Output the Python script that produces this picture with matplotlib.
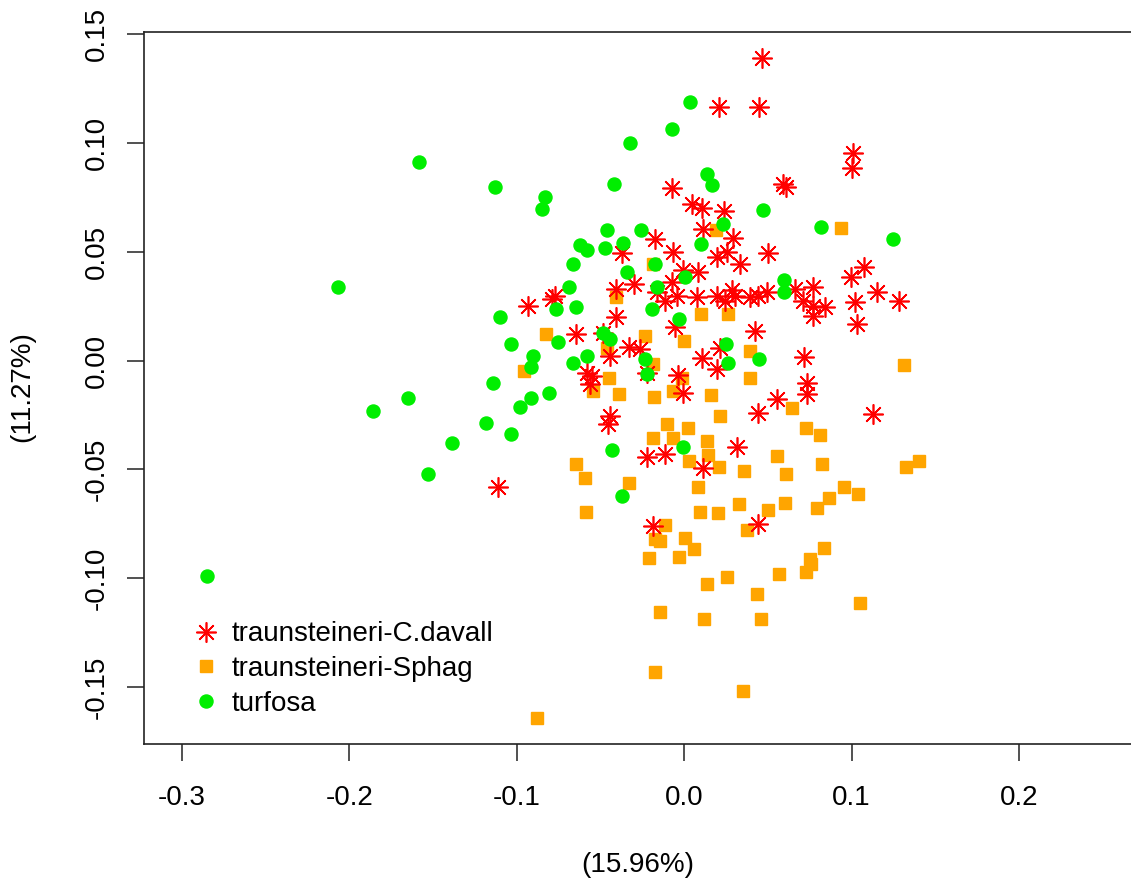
import matplotlib
matplotlib.use("Agg")
import matplotlib.pyplot as plt
from matplotlib.lines import Line2D

plt.rcParams['font.family'] = ['Liberation Sans', 'DejaVu Sans']
plt.rcParams['axes.unicode_minus'] = False

# traunsteineri-C.davall (red asterisks)
davall_x = [0.0466, 0.0209, 0.0448, 0.1009, 0.1003, 0.0591, 0.0609, -0.0072, 0.0048, 0.0107,
            0.0239, 0.0113, -0.0173, -0.0066, 0.0293, 0.0257, 0.0197, 0.0501, 0.0334, 0.0084,
            -0.0006, -0.0072, -0.0161, -0.0042, -0.0113, 0.0078, 0.0197, 0.0287, 0.0245, 0.0304,
            0.0394, 0.0442, 0.0496, 0.0663, 0.0770, 0.0770, 0.0710, 0.0842, 0.0770, 0.0997,
            0.1075, 0.1152, 0.1021, 0.1284, 0.1033, -0.0054, 0.0424, -0.0263, 0.0107, 0.0215,
            0.0197, 0.0716, 0.0734, 0.0734, 0.0555, -0.0036, -0.0006, -0.0370, -0.0299, -0.0406,
            -0.0770, -0.0788, -0.0931, -0.0406, -0.0645, -0.0484, -0.0328, -0.0442, -0.0221, -0.0579,
            -0.0549, -0.0561, -0.1110, -0.0442, -0.0454, -0.0221, -0.0185, 0.0442, 0.1128, 0.0316,
            -0.0113, 0.0113, 0.0442]
davall_y = [0.1389, 0.1164, 0.1164, 0.0952, 0.0883, 0.0810, 0.0796, 0.0791, 0.0718, 0.0699,
            0.0685, 0.0603, 0.0557, 0.0497, 0.0561, 0.0497, 0.0474, 0.0492, 0.0442, 0.0405,
            0.0414, 0.0359, 0.0317, 0.0299, 0.0276, 0.0290, 0.0299, 0.0322, 0.0276, 0.0299,
            0.0290, 0.0299, 0.0313, 0.0331, 0.0336, 0.0253, 0.0276, 0.0248, 0.0207, 0.0382,
            0.0428, 0.0313, 0.0267, 0.0276, 0.0166, 0.0152, 0.0138, 0.0055, 0.0014, 0.0060,
            -0.0037, 0.0018, -0.0101, -0.0152, -0.0175, -0.0064, -0.0147, 0.0492, 0.0350, 0.0331,
            0.0299, 0.0285, 0.0253, 0.0198, 0.0124, 0.0129, 0.0064, 0.0023, -0.0055, -0.0055,
            -0.0069, -0.0106, -0.0580, -0.0253, -0.0290, -0.0442, -0.0759, -0.0239, -0.0244, -0.0396,
            -0.0428, -0.0492, -0.0750]

# traunsteineri-Sphag (orange squares)
sphag_x = [0.0937, 0.0191, -0.0185, 0.0101, 0.0263, -0.0233, 0.0000, 0.0394, -0.0185, 0.0394,
           0.1313, -0.0179, -0.0066, 0.0161, -0.0012, -0.0406, -0.0824, -0.0460, -0.0955, -0.0448,
           -0.0543, -0.0388, -0.0185, -0.0645, -0.0591, -0.0328, -0.0585, -0.0173, -0.0209, 0.0215,
           -0.0101, 0.0024, -0.0066, 0.0137, 0.0143, 0.0030, 0.0209, 0.0358, 0.0084, 0.0645,
           0.0728, 0.0812, 0.0555, 0.0609, 0.0824, 0.0955, 0.1039, 0.0866, 0.0794, 0.0603,
           0.0501, 0.0328, 0.0203, 0.0096, -0.0113, 0.0376, -0.0143, 0.0006, 0.0060, -0.0030,
           0.1325, 0.1403, 0.0836, 0.0752, 0.0137, 0.0257, 0.0436, 0.0567, 0.0758, 0.0728,
           0.1051, -0.0143, 0.0119, 0.0460, -0.0173, 0.0352, -0.0878]
sphag_y = [0.0607, 0.0598, 0.0442, 0.0216, 0.0216, 0.0115, 0.0092, 0.0046, -0.0014, -0.0078,
           -0.0018, -0.0166, -0.0138, -0.0156, -0.0078, 0.0290, 0.0120, 0.0060, -0.0046, -0.0078,
           -0.0138, -0.0152, -0.0354, -0.0474, -0.0538, -0.0561, -0.0695, -0.0819, -0.0906, -0.0253,
           -0.0290, -0.0308, -0.0354, -0.0368, -0.0432, -0.0460, -0.0488, -0.0506, -0.0580, -0.0216,
           -0.0308, -0.0340, -0.0437, -0.0520, -0.0474, -0.0580, -0.0612, -0.0630, -0.0676, -0.0653,
           -0.0685, -0.0658, -0.0699, -0.0695, -0.0754, -0.0777, -0.0828, -0.0814, -0.0865, -0.0902,
           -0.0488, -0.0460, -0.0860, -0.0911, -0.1026, -0.0994, -0.1072, -0.0980, -0.0934, -0.0971,
           -0.1113, -0.1155, -0.1187, -0.1187, -0.1431, -0.1518, -0.1642]

# turfosa (green circles)
turfosa_x = [-0.2848, -0.2066, -0.1582, -0.1857, -0.1648, -0.1528, -0.1385, -0.1128, -0.1099, -0.1140,
             -0.1182, -0.1032, -0.1032, -0.0979, -0.0913, -0.0901, -0.0913, -0.0830, -0.0848, -0.0806,
             -0.0764, -0.0686, -0.0663, -0.0645, -0.0752, -0.0621, -0.0579, -0.0472, -0.0460, -0.0257,
             -0.0364, -0.0340, -0.0418, -0.0322, -0.0173, -0.0161, -0.0191, -0.0484, -0.0442, -0.0579,
             -0.0663, -0.0233, -0.0221, -0.0430, -0.0370, 0.0036, -0.0072, 0.0137, 0.0167, 0.0472,
             0.0233, 0.0818, 0.1248, 0.0101, 0.0006, 0.0597, 0.0597, -0.0030, 0.0251, 0.0263,
             0.0448, -0.0006]
turfosa_y = [-0.0989, 0.0336, 0.0911, -0.0230, -0.0170, -0.0520, -0.0377, 0.0796, 0.0202, -0.0101,
             -0.0285, 0.0074, -0.0336, -0.0212, -0.0170, 0.0023, -0.0028, 0.0750, 0.0695, -0.0147,
             0.0239, 0.0340, 0.0442, 0.0248, 0.0087, 0.0529, 0.0506, 0.0515, 0.0598, 0.0598,
             0.0538, 0.0405, 0.0810, 0.0998, 0.0446, 0.0336, 0.0235, 0.0129, 0.0101, 0.0023,
             -0.0009, 0.0009, -0.0060, -0.0409, -0.0621, 0.1187, 0.1063, 0.0856, 0.0805, 0.0694,
             0.0626, 0.0612, 0.0557, 0.0534, 0.0382, 0.0372, 0.0313, 0.0189, 0.0074, -0.0009,
             0.0009, -0.0396]

labels = ["traunsteineri-C.davall", "traunsteineri-Sphag", "turfosa"]
xticks = [-0.3, -0.2, -0.1, 0.0, 0.1, 0.2]
yticks = [-0.15, -0.10, -0.05, 0.00, 0.05, 0.10, 0.15]

RED = "#FF0000"
ORANGE = "#FFA500"
GREEN = "#00EE00"
ASTER = (8, 2, 0)

fig = plt.figure(figsize=(11.31, 8.83), dpi=100)
ax = fig.add_axes([0.1273, 0.1578, 0.8757, 0.8063])

ax.plot(sphag_x, sphag_y, ls="none", marker="s", ms=9.2, color=ORANGE, mec=ORANGE)
ax.plot(davall_x, davall_y, ls="none", marker=ASTER, ms=14.5, color=RED, mew=1.2)
ax.plot(turfosa_x, turfosa_y, ls="none", marker="o", ms=9.4, color=GREEN, mec=GREEN)

ax.set_xlim(-0.3225, 0.2689)
ax.set_ylim(-0.1760, 0.1511)
ax.set_xticks(xticks)
ax.set_xticklabels([f"{v:.1f}" for v in xticks])
ax.set_yticks(yticks)
ax.set_yticklabels([f"{v:.2f}" for v in yticks], rotation=90, va="center")
ax.tick_params(axis="both", labelsize=20, length=12.5, width=1.1, color="#222222")
ax.tick_params(axis="x", pad=17)
ax.tick_params(axis="y", pad=12)
for s in ax.spines.values():
    s.set_linewidth(1.2)
    s.set_color("#222222")

fig.text(638 / 1131, 1 - 865 / 883, "(15.96%)", fontsize=20, ha="center", va="center")
fig.text(22 / 1131, 1 - 387 / 883, "(11.27%)", fontsize=20, ha="center", va="center", rotation=90)

handles = [
    Line2D([], [], ls="none", marker=ASTER, ms=14.5, color=RED, mew=1.2),
    Line2D([], [], ls="none", marker="s", ms=9.2, color=ORANGE),
    Line2D([], [], ls="none", marker="o", ms=9.4, color=GREEN),
]
ax.legend(handles, labels, loc="upper left", bbox_to_anchor=(0.049, 0.1716), frameon=False,
          fontsize=20, numpoints=1, handlelength=1.0, handletextpad=0.4,
          labelspacing=0.31, borderpad=0, borderaxespad=0)

fig.savefig("out.png", dpi=100)
